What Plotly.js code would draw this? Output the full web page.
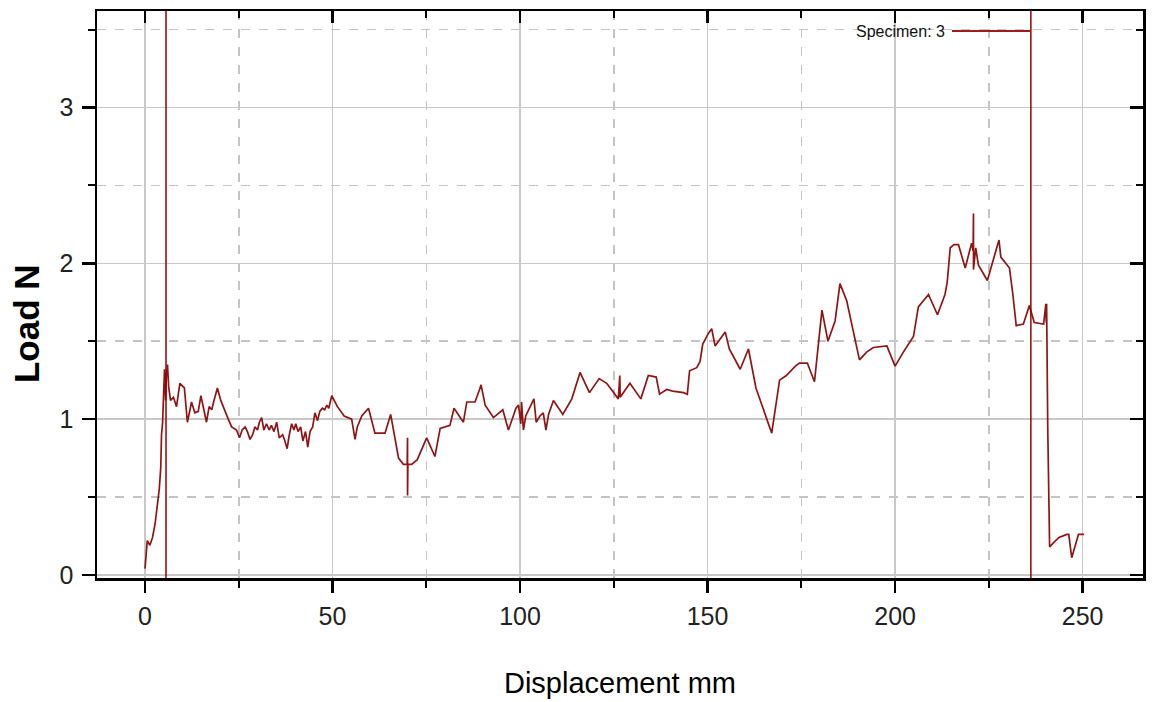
<!DOCTYPE html>
<html>
<head>
<meta charset="utf-8">
<script src="https://cdn.plot.ly/plotly-3.0.1.min.js"></script>
<style>html,body{margin:0;padding:0;background:#fff;}#chart{width:1152px;height:702px;}</style>
</head>
<body>
<div id="chart"></div>
<script>
// Displacement (mm) and Load (N) for Specimen 3
const displacement = [
0,0.3,0.6,1.3,2.0,2.7,3.1,3.6,3.8,4.2,4.4,4.7,4.9,5.2,5.5,5.7,6.0,6.3,6.8,7.6,8.4,9.3,10.5,11.3,12.0,12.4,13.3,14.2,14.9,15.5,16.4,17.1,17.8,18.4,19.3,20.2,21.3,22.2,23.1,24.4,25.2,25.9,26.7,27.3,28.0,28.7,29.3,30.0,30.5,31.1,31.7,32.4,33.1,33.7,34.4,35.1,35.8,36.7,37.3,37.9,38.4,39.1,39.7,40.2,40.8,41.5,42.1,42.8,43.4,44.0,44.7,45.3,46.0,46.6,47.3,47.9,48.5,49.0,49.8,50.6,
51.3,53.1,55.1,56.0,56.6,57.8,59.6,61.3,64.0,65.5,67.6,68.9,69.9,70.0,70.0,70.1,71.1,72.6,75.1,77.3,78.7,80.0,81.3,82.4,84.9,85.8,88.0,89.2,89.6,90.7,92.9,95.4,96.9,98.2,98.9,
99.6,100.2,100.4,100.9,101.5,102.7,103.7,104.3,105.3,106.2,106.9,107.6,108.9,111.4,113.8,116.0,118.5,121.1,123.1,126.2,126.6,126.7,129.3,132.2,134.2,136.3,137.2,139.1,140.7,143.6,144.6,145.2,147.1,148.0,148.7,150.2,151.1,152.0,154.7,155.8,158.7,160.9,162.9,167.1,169.2,171.0,173.4,174.5,176.6,178.5,179.8,180.5,182.1,184.0,185.3,187.1,190.5,192.4,194.2,197.8,200.0,202.2,204.9,206.2,208.9,211.3,213.3,213.9,214.7,215.7,216.9,218.7,220.4,220.8,220.9,220.9,221.5,222.2,224.6,226.2,227.7,228.2,230.5,231.4,232.3,234.2,235.8,237.1,239.6,240.2,240.3,240.4,240.7,241.2,242.4,243.7,245.8,246.3,247.1,248.9,250.4
];
const load = [
0.04,0.14,0.22,0.19,0.24,0.33,0.40,0.48,0.55,0.69,0.90,0.98,1.11,1.32,1.12,1.29,1.35,1.21,1.12,1.14,1.08,1.23,1.20,0.98,1.06,1.11,1.04,1.05,1.15,1.09,0.98,1.08,1.06,1.12,1.20,1.12,1.05,1.00,0.95,0.93,0.88,0.93,0.95,0.92,0.87,0.90,0.95,0.93,0.98,1.01,0.93,0.97,0.93,0.96,0.92,0.98,0.88,0.90,0.86,0.81,0.89,0.97,0.93,0.97,0.92,0.95,0.86,0.92,0.82,0.92,0.95,1.04,0.99,1.05,1.07,1.06,1.09,1.07,1.15,1.11,
1.08,1.02,1.00,0.87,0.95,1.02,1.07,0.91,0.91,1.03,0.75,0.71,0.71,0.88,0.51,0.71,0.71,0.74,0.88,0.76,0.94,0.95,0.96,1.07,0.98,1.11,1.11,1.19,1.22,1.09,1.01,1.06,0.93,1.02,1.07,
1.09,0.97,1.11,0.93,1.02,1.08,1.13,0.98,1.02,1.04,0.93,1.03,1.12,1.03,1.13,1.30,1.17,1.26,1.23,1.13,1.28,1.14,1.23,1.13,1.28,1.27,1.16,1.19,1.18,1.17,1.16,1.31,1.33,1.37,1.48,1.55,1.58,1.47,1.56,1.45,1.32,1.45,1.20,0.91,1.25,1.28,1.34,1.36,1.36,1.24,1.56,1.70,1.50,1.63,1.87,1.76,1.38,1.43,1.46,1.47,1.34,1.43,1.53,1.72,1.80,1.67,1.80,1.88,2.10,2.12,2.12,1.97,2.13,2.08,2.32,1.96,2.10,1.99,1.89,2.02,2.15,2.04,1.97,1.80,1.60,1.61,1.73,1.62,1.61,1.74,1.62,1.74,0.95,0.18,0.21,0.24,0.26,0.26,0.11,0.26,0.26
];
// Vertical cursor markers (mm)
const markerX = [5.6, 236.2];
const seriesName = 'Specimen: 3';
const xTicks = [0, 50, 100, 150, 200, 250];
const yTicks = [0, 1, 2, 3];

const lineColor = '#8f1515';
const fam = '"Liberation Sans", Arial, sans-serif';
const tickFont = {family: fam, size: 25, color: '#222'};
const xr = [-12.8, 266.1];
const yr = [-0.02, 3.62];

const traces = [
  {x: displacement, y: load, type: 'scatter', mode: 'lines', name: seriesName,
   line: {color: lineColor, width: 1.7}, showlegend: false, hoverinfo: 'x+y'},
  {x: [null], y: [null], xaxis: 'x2', yaxis: 'y2', type: 'scatter', mode: 'lines', showlegend: false, hoverinfo: 'skip'}
];

const shapes = markerX.map(v => ({type: 'line', xref: 'x', yref: 'paper', x0: v, x1: v, y0: 0, y1: 1,
  line: {color: '#990000', width: 1.5}}));
// legend sample line
shapes.push({type: 'line', xref: 'paper', yref: 'paper', x0: 0.8174, x1: 0.892, y0: 0.9647, y1: 0.9647,
  line: {color: '#a01c1c', width: 2}});

const gridMinor = (dt) => ({dtick: dt, ticks: 'outside', ticklen: 7, tickwidth: 2, tickcolor: '#000',
  showgrid: true, gridcolor: '#c4c4c4', griddash: 'dash', gridwidth: 1.5});

const layout = {
  width: 1152, height: 702,
  margin: {l: 97, r: 9, t: 11, b: 124},
  paper_bgcolor: '#fff', plot_bgcolor: '#fff',
  showlegend: false,
  xaxis: {
    range: xr, tickvals: xTicks, ticks: 'outside', ticklen: 12, tickwidth: 2.5, tickcolor: '#000',
    showline: true, linecolor: '#000', linewidth: 2.5, zeroline: false,
    showgrid: true, gridcolor: '#c8c8c8', gridwidth: 1.5,
    minor: Object.assign(gridMinor(25), {tick0: 0}),
    tickfont: tickFont, ticklabelstandoff: 2,
    title: {text: 'Displacement mm', font: {family: fam, size: 29, color: '#000'}, standoff: 44}
  },
  yaxis: {
    range: yr, tickvals: yTicks, ticks: 'outside', ticklen: 13, tickwidth: 2.5, tickcolor: '#000',
    showline: true, linecolor: '#000', linewidth: 2.5, zeroline: false,
    showgrid: true, gridcolor: '#c8c8c8', gridwidth: 1.5,
    minor: Object.assign(gridMinor(0.5), {tick0: 0}),
    tickfont: tickFont, ticklabelstandoff: 3
  },
  xaxis2: {
    overlaying: 'x', side: 'top', range: xr, tickvals: xTicks, ticks: 'inside', ticklen: 12, tickwidth: 2.5, tickcolor: '#000',
    showticklabels: false, showline: true, linecolor: '#000', linewidth: 2.5, showgrid: false, zeroline: false,
    minor: {dtick: 25, tick0: 0, ticks: 'inside', ticklen: 7, tickwidth: 2, tickcolor: '#000', showgrid: false}
  },
  yaxis2: {
    overlaying: 'y', side: 'right', range: yr, tickvals: yTicks, ticks: 'inside', ticklen: 13, tickwidth: 2.5, tickcolor: '#000',
    showticklabels: false, showline: true, linecolor: '#000', linewidth: 2.5, showgrid: false, zeroline: false,
    minor: {dtick: 0.5, tick0: 0, ticks: 'inside', ticklen: 7, tickwidth: 2, tickcolor: '#000', showgrid: false}
  },
  shapes: shapes,
  annotations: [
    {text: 'Load N', xref: 'paper', yref: 'paper', x: -0.0669, y: 0.448, xanchor: 'center', yanchor: 'middle',
     textangle: -90, showarrow: false, font: {family: fam, size: 35, color: '#000', weight: 'bold'}},
    {text: seriesName, xref: 'paper', yref: 'paper', x: 0.8126, y: 0.9647, xanchor: 'right', yanchor: 'middle',
     showarrow: false, font: {family: fam, size: 16, color: '#111'}}
  ]
};

Plotly.newPlot('chart', traces, layout, {staticPlot: true, displayModeBar: false});
</script>
</body>
</html>
